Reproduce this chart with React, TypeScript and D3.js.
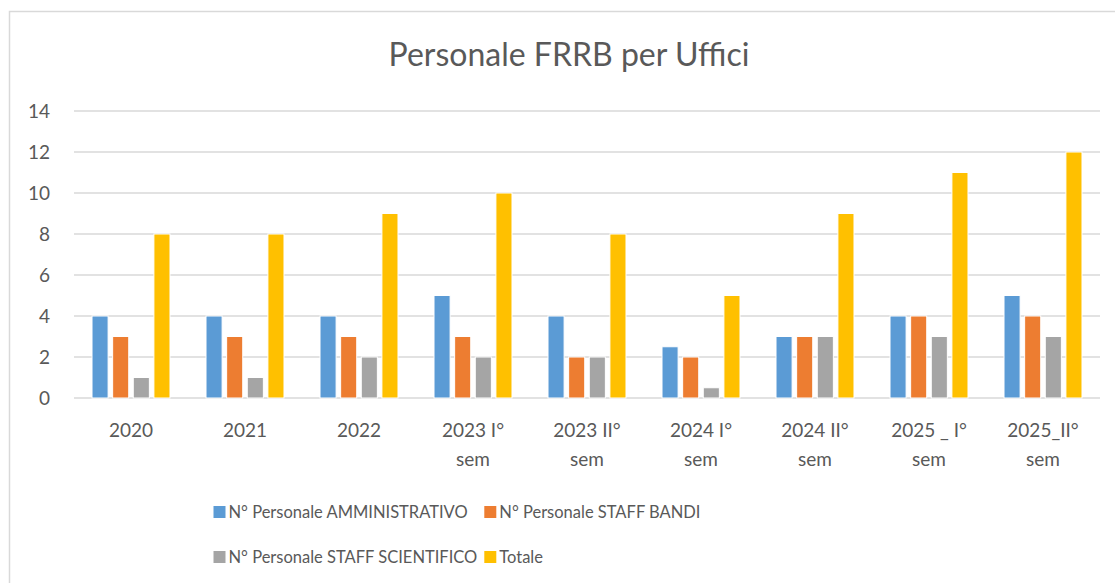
import { useEffect, useRef } from 'react';
import * as d3 from 'd3';

const categories = ['2020', '2021', '2022', '2023 I° sem', '2023 II° sem', '2024 I° sem', '2024 II° sem', '2025 _ I° sem', '2025_II° sem'];
const seriesNames = ['N° Personale AMMINISTRATIVO', 'N° Personale STAFF BANDI', 'N° Personale STAFF SCIENTIFICO', 'Totale'];
const amministrativo = [4, 4, 4, 5, 4, 2.5, 3, 4, 5];
const staffBandi = [3, 3, 3, 3, 2, 2, 3, 4, 4];
const staffScientifico = [1, 1, 2, 2, 2, 0.5, 3, 3, 3];
const totale = [8, 8, 9, 10, 8, 5, 9, 11, 12];
const yTicks = [0, 2, 4, 6, 8, 10, 12, 14];
const colors = ['#5B9BD5', '#ED7D31', '#A5A5A5', '#FFC000'];

const W = 1115;
const H = 583;
const FONT = 'Lato, "Open Sans", sans-serif';
const TEXT = '#595959';

const App = () => {
  const svgRef = useRef<SVGSVGElement>(null);

  useEffect(() => {
    const svg = d3.select(svgRef.current);
    svg.selectAll('*').remove();

    const values = [amministrativo, staffBandi, staffScientifico, totale];
    const left = 74, right = 1100, top = 111, bottom = 398;

    // chart frame (only top + left edges fall inside the picture)
    svg.append('rect')
      .attr('x', 9.5).attr('y', 11.5)
      .attr('width', W + 20).attr('height', H + 20)
      .attr('fill', '#fff')
      .attr('stroke', '#d9d9d9')
      .attr('stroke-width', 1.5);

    svg.append('text')
      .attr('x', 569).attr('y', 66)
      .attr('text-anchor', 'middle')
      .attr('font-family', FONT)
      .attr('font-size', 32)
      .attr('fill', TEXT)
      .text('Personale FRRB per Uffici');

    const x = d3.scaleBand<string>()
      .domain(categories)
      .range([left, right])
      .paddingInner(0.316)
      .paddingOuter(0.158);

    const xs = d3.scaleBand<number>()
      .domain([0, 1, 2, 3])
      .range([0, x.bandwidth()])
      .paddingInner(0.22);

    const y = d3.scaleLinear().domain([0, 14]).range([bottom, top]);

    svg.append('g')
      .selectAll('line')
      .data(yTicks)
      .enter().append('line')
      .attr('x1', left).attr('x2', right)
      .attr('y1', d => y(d)).attr('y2', d => y(d))
      .attr('stroke', '#d9d9d9')
      .attr('stroke-width', 1.5);

    svg.append('g')
      .selectAll('text')
      .data(yTicks)
      .enter().append('text')
      .attr('x', 50)
      .attr('y', d => y(d))
      .attr('dy', '0.35em')
      .attr('text-anchor', 'end')
      .attr('font-family', FONT)
      .attr('font-size', 19)
      .attr('fill', TEXT)
      .text(d => d);

    const groups = svg.append('g')
      .selectAll('g')
      .data(categories)
      .enter().append('g')
      .attr('transform', d => `translate(${x(d)},0)`);

    groups.selectAll('rect')
      .data((_, i) => values.map((s, k) => ({ k, v: s[i] })))
      .enter().append('rect')
      .attr('x', d => xs(d.k)!)
      .attr('y', d => y(d.v))
      .attr('width', xs.bandwidth())
      .attr('height', d => y(0) - y(d.v))
      .attr('fill', d => colors[d.k])
      .attr('stroke', '#fff')
      .attr('stroke-width', 1);

    // category labels, wrapped before "sem"
    svg.append('g')
      .selectAll('text')
      .data(categories)
      .enter().append('text')
      .attr('x', d => x(d)! + x.bandwidth() / 2)
      .attr('y', 437)
      .attr('text-anchor', 'middle')
      .attr('font-family', FONT)
      .attr('font-size', 19)
      .attr('fill', TEXT)
      .each(function (d) {
        const lines = d.endsWith(' sem') ? [d.slice(0, -4), 'sem'] : [d];
        d3.select(this).selectAll('tspan')
          .data(lines)
          .enter().append('tspan')
          .attr('x', x(d)! + x.bandwidth() / 2)
          .attr('dy', (_, i) => i === 0 ? 0 : 29)
          .text(t => t);
      });

    // legend: 2 rows x 2 columns, centred under the plot
    const rowsY = [512, 557];
    const legendCenter = 457;
    const legend = svg.append('g')
      .selectAll('g')
      .data(seriesNames)
      .enter().append('g');

    legend.append('rect')
      .attr('x', 0).attr('y', -6)
      .attr('width', 12).attr('height', 12)
      .attr('fill', (_, i) => colors[i]);

    legend.append('text')
      .attr('x', 15)
      .attr('dy', '0.35em')
      .attr('font-family', FONT)
      .attr('font-size', 16.5)
      .attr('fill', TEXT)
      .text(d => d);

    const widths: number[] = [];
    legend.selectAll('text').each(function () {
      widths.push((this as SVGTextElement).getComputedTextLength());
    });
    const colW0 = 15 + Math.max(widths[0], widths[2]) + 7;
    const colW1 = 15 + Math.max(widths[1], widths[3]);
    const col0 = legendCenter - (colW0 + colW1) / 2;
    const col1 = col0 + colW0;
    legend.attr('transform', (_, i) => `translate(${i % 2 === 0 ? col0 : col1},${rowsY[Math.floor(i / 2)]})`);
  }, []);

  return (
    <div>
      <svg ref={svgRef} width={W} height={H} style={{ position: 'absolute', left: 0, top: 0 }} />
    </div>
  );
};

export default App;
